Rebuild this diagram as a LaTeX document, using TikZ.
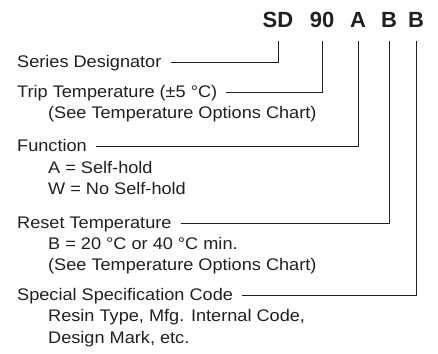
\documentclass[tikz,border=0pt]{standalone}
\usepackage{fontspec}
\setmainfont{Liberation Sans}[FakeStretch=1.08]
\newfontfamily\hdrfont{Liberation Sans}[FakeStretch=1.0]
\definecolor{ink}{HTML}{231F20}
\begin{document}
\begin{tikzpicture}[x=1bp,y=-1bp,
  lab/.style={anchor=base west,inner sep=0pt,text=ink,font=\fontsize{16.8bp}{20bp}\selectfont},
  hdr/.style={anchor=base,inner sep=0pt,text=ink,font=\hdrfont\bfseries\fontsize{22bp}{24bp}\selectfont},
  conn/.style={draw=ink,line width=0.9bp}]
\useasboundingbox (0,0) rectangle (438,353);
% header
\node[hdr] (h1) at (278,27) {SD};
\node[hdr] (h2) at (322,27) {90};
\node[hdr] (h3) at (358,27) {A};
\node[hdr] (h4) at (389,27) {B};
\node[hdr] (h5) at (416,27) {B};
% labels
\node[lab] (l1) at (17,67) {Series Designator};
\node[lab] (l2) at (17,97) {Trip Temperature (±5 °C)};
\node[lab] (l2a) at (48,118) {(See Temperature Options Chart)};
\node[lab] (l3) at (17,151) {Function};
\node[lab] (l3a) at (48,173) {A = Self-hold};
\node[lab] (l3b) at (48,194) {W = No Self-hold};
\node[lab] (l4) at (17,228) {Reset Temperature};
\node[lab] (l4a) at (48,249) {B = 20 °C or 40 °C min.};
\node[lab] (l4b) at (48,270) {(See Temperature Options Chart)};
\node[lab] (l5) at (17,300) {Special Specification Code};
\node[lab] (l5a) at (48,321) {Resin Type, Mfg. Internal Code,};
\node[lab] (l5b) at (48,343) {Design Mark, etc.};
% connectors
\foreach \l/\h in {l1/h1,l2/h2,l3/h3,l4/h4,l5/h5}{
  \draw[conn] ([xshift=9bp,yshift=1.5bp]\l.mid east) -| ([yshift=-14bp]\h.base);
}
\end{tikzpicture}
\end{document}
